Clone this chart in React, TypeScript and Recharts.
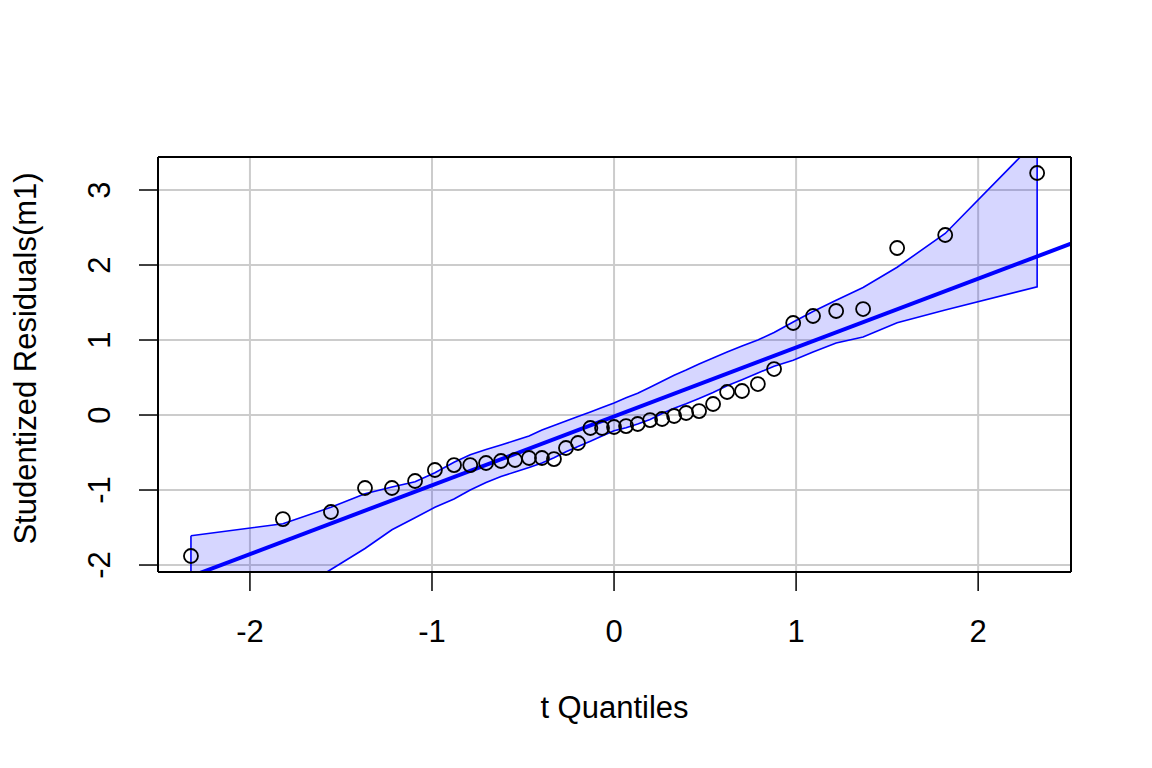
import React from "react";
import { ComposedChart, XAxis, YAxis, CartesianGrid, Area, Line, Scatter } from "recharts";

// theoretical t quantiles (x) and studentized residuals (y)
const quantiles = [
  -2.324, -1.819, -1.555, -1.368, -1.22, -1.093, -0.984, -0.879, -0.79, -0.703,
  -0.621, -0.544, -0.467, -0.396, -0.33, -0.264, -0.198, -0.13, -0.066, 0,
  0.066, 0.13, 0.198, 0.264, 0.33, 0.396, 0.467, 0.544, 0.621, 0.703,
  0.79, 0.879, 0.984, 1.093, 1.22, 1.368, 1.555, 1.819, 2.324,
];
const residuals = [
  -1.88, -1.387, -1.293, -0.973, -0.973, -0.88, -0.733, -0.667, -0.667, -0.64,
  -0.613, -0.6, -0.573, -0.573, -0.587, -0.44, -0.373, -0.173, -0.173, -0.16,
  -0.147, -0.12, -0.067, -0.053, -0.013, 0.027, 0.053, 0.147, 0.307, 0.32,
  0.413, 0.613, 1.227, 1.32, 1.387, 1.413, 2.227, 2.4, 3.227,
];
// confidence envelope
const envUpper = [
  -1.61, -1.45, -1.23, -1.05, -0.96, -0.89, -0.77, -0.63, -0.53, -0.46,
  -0.4, -0.34, -0.28, -0.2, -0.14, -0.08, -0.02, 0.04, 0.1, 0.16,
  0.23, 0.29, 0.37, 0.45, 0.53, 0.6, 0.68, 0.76, 0.84, 0.92,
  1.0, 1.1, 1.24, 1.38, 1.53, 1.7, 1.97, 2.42, 3.67,
];
const envLower = [
  -3.7, -2.45, -2.06, -1.78, -1.53, -1.37, -1.23, -1.12, -1.0, -0.9,
  -0.82, -0.76, -0.7, -0.64, -0.57, -0.49, -0.42, -0.35, -0.28, -0.21,
  -0.17, -0.12, -0.06, 0.02, 0.09, 0.15, 0.22, 0.3, 0.39, 0.47,
  0.56, 0.65, 0.73, 0.84, 0.96, 1.04, 1.23, 1.4, 1.71,
];
// fitted reference line, at the plot edges
const fitLine = [
  { q: -2.505, y: -2.318 },
  { q: 2.51, y: 2.285 },
];

const xTicks = [-2, -1, 0, 1, 2];
const yTicks = [-2, -1, 0, 1, 2, 3];
const X_DOMAIN = [-2.505, 2.51];
const Y_DOMAIN = [-2.093, 3.44];

const FONT = "'Liberation Sans', Arial, Helvetica, sans-serif";
const BLUE = "#0000FF";

const data = quantiles.map((q, i) => ({
  q,
  resid: residuals[i],
  band: [envLower[i], envUpper[i]],
}));

// polygon outline of the envelope: upper left->right, lower right->left
const border = [
  ...quantiles.map((q, i) => ({ q, v: envUpper[i] })),
  ...quantiles.map((q, i) => ({ q, v: envLower[i] })).reverse(),
];
border.push(border[0]);

const XTick = (props: any) => {
  const { x, y, payload } = props;
  return (
    <text x={x} y={y + 49} textAnchor="middle" fontSize={31} fontFamily={FONT} fill="#000">
      {payload.value}
    </text>
  );
};

const YTick = (props: any) => {
  const { x, y, payload } = props;
  return (
    <text
      transform={`translate(${x - 27},${y}) rotate(-90)`}
      textAnchor="middle"
      fontSize={31}
      fontFamily={FONT}
      fill="#000"
    >
      {payload.value}
    </text>
  );
};

const Circle = (props: any) => {
  const { cx, cy } = props;
  if (cx == null || cy == null) return null;
  return <circle cx={cx} cy={cy} r={7} fill="none" stroke="#000" strokeWidth={1.8} />;
};

export default function App() {
  return (
    <div style={{ position: "absolute", left: 0, top: 0, background: "#fff" }}>
      <ComposedChart
        width={1152}
        height={768}
        data={data}
        margin={{ top: 156, right: 80, bottom: 0, left: 0 }}
      >
        <CartesianGrid stroke="#CCCCCC" strokeWidth={2} />
        <XAxis
          dataKey="q"
          type="number"
          domain={X_DOMAIN}
          ticks={xTicks}
          allowDataOverflow
          height={196}
          tickSize={19}
          tick={<XTick />}
          axisLine={{ stroke: "#000", strokeWidth: 2 }}
          tickLine={{ stroke: "#000", strokeWidth: 1.5 }}
          label={(p: any) => {
            const vb = p.viewBox;
            return (
              <text
                x={vb.x + vb.width / 2}
                y={vb.y + 146}
                textAnchor="middle"
                fontSize={31}
                fontFamily={FONT}
                fill="#000"
              >
                t Quantiles
              </text>
            );
          }}
        />
        <XAxis
          xAxisId="top"
          orientation="top"
          type="number"
          domain={X_DOMAIN}
          allowDataOverflow
          height={1}
          tick={false}
          tickLine={false}
          axisLine={{ stroke: "#000", strokeWidth: 2 }}
        />
        <YAxis
          type="number"
          domain={Y_DOMAIN}
          ticks={yTicks}
          allowDataOverflow
          width={158}
          tickSize={19}
          tick={<YTick />}
          axisLine={{ stroke: "#000", strokeWidth: 2 }}
          tickLine={{ stroke: "#000", strokeWidth: 1.5 }}
          label={(p: any) => {
            const vb = p.viewBox;
            const cy = vb.y + vb.height / 2 - 6;
            return (
              <text
                transform={`translate(${vb.x + 36},${cy}) rotate(-90)`}
                textAnchor="middle"
                fontSize={31}
                fontFamily={FONT}
                fill="#000"
              >
                Studentized Residuals(m1)
              </text>
            );
          }}
        />
        <YAxis
          yAxisId="right"
          orientation="right"
          type="number"
          domain={Y_DOMAIN}
          allowDataOverflow
          width={1}
          tick={false}
          tickLine={false}
          axisLine={{ stroke: "#000", strokeWidth: 2 }}
        />
        <Area
          dataKey="band"
          type="linear"
          fill={BLUE}
          fillOpacity={0.16}
          stroke="none"
          isAnimationActive={false}
          activeDot={false}
          dot={false}
        />
        <Line
          data={border}
          dataKey="v"
          type="linear"
          stroke={BLUE}
          strokeWidth={1.6}
          dot={false}
          activeDot={false}
          isAnimationActive={false}
        />
        <Line
          data={fitLine}
          dataKey="y"
          type="linear"
          stroke={BLUE}
          strokeWidth={4}
          dot={false}
          activeDot={false}
          isAnimationActive={false}
        />
        <Scatter dataKey="resid" shape={<Circle />} isAnimationActive={false} />
      </ComposedChart>
    </div>
  );
}
